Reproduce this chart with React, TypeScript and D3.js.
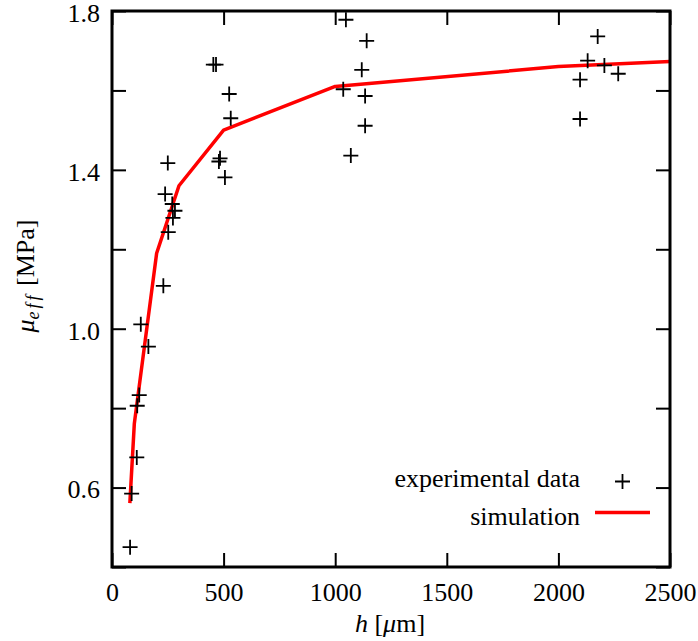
import React, { useEffect, useRef } from 'react';
import * as d3 from 'd3';

// experimental data (h in um, mu_eff in MPa)
const expH = [454, 466, 525, 532, 250, 484, 479, 506, 238, 270, 282, 273, 252, 230, 129, 163, 122, 113, 111, 88, 81,
  1048, 1141, 1119, 1036, 1134, 1134, 1070, 2176, 2131, 2206, 2268, 2097, 2097];
const expMu = [1.665, 1.665, 1.591, 1.530, 1.417, 1.429, 1.421, 1.381, 1.339, 1.314, 1.297, 1.279, 1.243, 1.108, 1.011, 0.955, 0.833, 0.806, 0.676, 0.585, 0.450,
  1.778, 1.725, 1.652, 1.603, 1.586, 1.511, 1.436, 1.736, 1.675, 1.663, 1.642, 1.627, 1.528];

// simulation curve
const simH = [80, 100, 200, 300, 500, 1000, 2000, 2500];
const simMu = [0.561, 0.761, 1.19, 1.36, 1.50, 1.61, 1.66, 1.673];

const xTicks = [0, 500, 1000, 1500, 2000, 2500];
const yTicks = [0.4, 0.6, 0.8, 1.0, 1.2, 1.4, 1.6, 1.8];
const yLabeled = [0.6, 1.0, 1.4, 1.8];

const W = 698, H = 641;
const margin = { top: 11, right: 28, bottom: 74, left: 112 };
const FONT = "'Liberation Serif', 'DejaVu Serif', serif";

export default function App() {
  const axesRef = useRef<SVGGElement>(null);

  const x = d3.scaleLinear().domain([0, 2500]).range([margin.left, W - margin.right]);
  const y = d3.scaleLinear().domain([0.4, 1.8]).range([H - margin.bottom, margin.top]);

  useEffect(() => {
    const g = d3.select(axesRef.current);
    g.selectAll('*').remove();

    const style = (sel: any) => {
      sel.select('.domain').remove();
      sel.attr('font-family', null).attr('font-size', 26);
      sel.selectAll('.tick line').attr('stroke', '#000').attr('stroke-width', 2);
      sel.selectAll('.tick text').attr('fill', '#000').style('font-family', FONT);
    };

    g.append('g')
      .attr('transform', `translate(0,${y(0.4)})`)
      .call(d3.axisBottom(x).tickValues(xTicks).tickSize(-14).tickPadding(16).tickFormat(d3.format('d')))
      .call(style);
    g.append('g')
      .attr('transform', `translate(0,${y(1.8)})`)
      .call(d3.axisTop(x).tickValues(xTicks).tickSize(-14).tickFormat(() => ''))
      .call(style);
    g.append('g')
      .attr('transform', `translate(${x(0)},0)`)
      .call(d3.axisLeft(y).tickValues(yTicks).tickSize(-14).tickPadding(12)
        .tickFormat(d => (yLabeled.some(v => Math.abs(v - +d) < 1e-6) ? d3.format('.1f')(d as number) : '')))
      .call(style)
      .selectAll('.tick text').attr('dy', '0.4em');
    g.append('g')
      .attr('transform', `translate(${x(2500)},0)`)
      .call(d3.axisRight(y).tickValues(yTicks).tickSize(-14).tickFormat(() => ''))
      .call(style);
  }, []);

  const line = d3.line<number>().x((d, i) => x(simH[i])).y(d => y(d));

  const cross = (cx: number, cy: number, k: number | string) => (
    <path key={k} d={`M${cx - 7.5},${cy}H${cx + 7.5}M${cx},${cy - 7.5}V${cy + 7.5}`}
      stroke="#000" strokeWidth={1.8} fill="none" />
  );

  return (
    <svg width={W} height={H} style={{ position: 'absolute', left: 0, top: 0, background: '#fff', fontFamily: FONT }}>
      <path d={line(simMu) || ''} fill="none" stroke="#ff0000" strokeWidth={3.5} strokeLinejoin="round" />
      {expMu.map((v, i) => cross(x(expH[i]), y(v), i))}
      <g ref={axesRef}></g>
      <rect x={x(0)} y={y(1.8)} width={x(2500) - x(0)} height={y(0.4) - y(1.8)}
        fill="none" stroke="#000" strokeWidth={3} />

      {/* legend */}
      <text x={580} y={487} textAnchor="end" fontSize={26} style={{ fontFamily: FONT }}>experimental data</text>
      {cross(622.5, 481.5, 'legend')}
      <text x={580} y={525} textAnchor="end" fontSize={26} style={{ fontFamily: FONT }}>simulation</text>
      <line x1={595} x2={650} y1={512.5} y2={512.5} stroke="#ff0000" strokeWidth={3.5} />

      {/* axis titles */}
      <text x={390} y={632} textAnchor="middle" fontSize={26} style={{ fontFamily: FONT }}>
        <tspan fontStyle="italic">h</tspan> [<tspan fontStyle="italic">μ</tspan>m]
      </text>
      <text transform="translate(34,276) rotate(-90)" textAnchor="middle" fontSize={26} style={{ fontFamily: FONT }}>
        <tspan fontStyle="italic">μ</tspan>
        <tspan fontStyle="italic" fontSize={18} dy={5} letterSpacing={3}>eff</tspan>
        <tspan dy={-5}> [MPa]</tspan>
      </text>
    </svg>
  );
}
